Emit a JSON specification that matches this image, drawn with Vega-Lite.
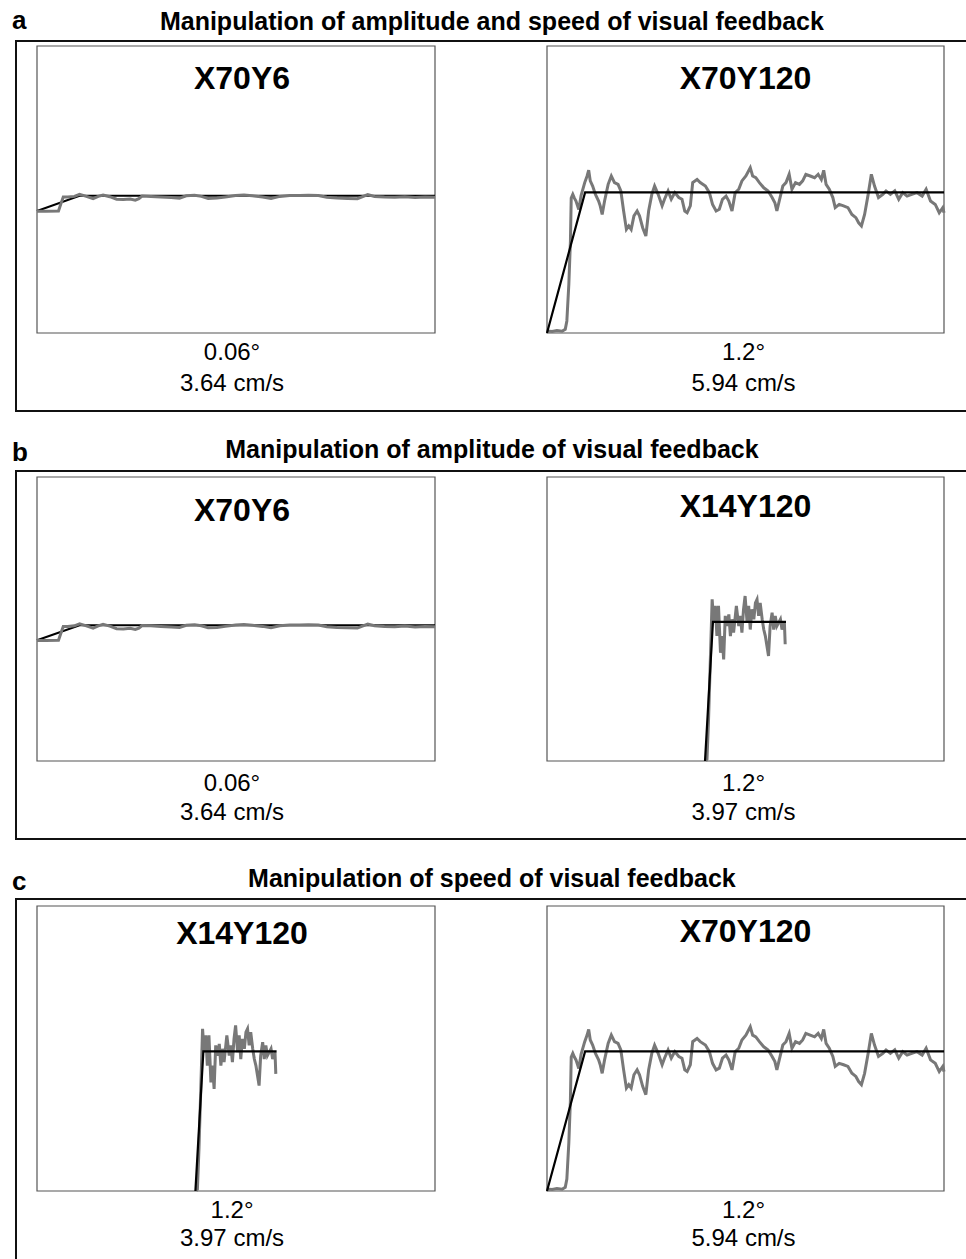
{
  "$schema": "https://vega.github.io/schema/vega-lite/v6.json",
  "padding": {"left": 10, "top": 7, "right": 0, "bottom": 0},
  "background": "white",
  "config": {
    "view": {"stroke": "#111111", "strokeWidth": 2},
    "text": {"font": "Liberation Sans", "color": "#000000"}
  },
  "bounds": "flush",
  "spacing": 60,
  "datasets": {
    "y6": [{"t":0,"v":42.4},{"t":2.15,"v":42.4},{"t":5.4,"v":42.5},{"t":6.0,"v":45},{"t":6.6,"v":47.4},{"t":7.7,"v":47.4},{"t":9.4,"v":47.6},{"t":10.7,"v":48.3},{"t":12.4,"v":47.6},{"t":14.1,"v":46.8},{"t":15.4,"v":47.6},{"t":16.6,"v":48.1},{"t":18.3,"v":47.5},{"t":20.0,"v":46.6},{"t":21.7,"v":46.5},{"t":23.4,"v":46.7},{"t":24.7,"v":46.3},{"t":25.6,"v":46.8},{"t":26.4,"v":47.7},{"t":28.6,"v":47.6},{"t":31.1,"v":47.4},{"t":33.7,"v":47.2},{"t":35.8,"v":47.0},{"t":37.5,"v":47.8},{"t":39.6,"v":48.0},{"t":41.3,"v":47.6},{"t":43.0,"v":46.9},{"t":45.2,"v":47.0},{"t":47.3,"v":47.4},{"t":49.9,"v":47.9},{"t":52.0,"v":48.1},{"t":54.1,"v":47.8},{"t":56.7,"v":47.4},{"t":58.8,"v":46.9},{"t":61.0,"v":47.6},{"t":63.5,"v":47.9},{"t":66.0,"v":47.9},{"t":68.2,"v":48.0},{"t":70.7,"v":47.9},{"t":72.8,"v":47.3},{"t":75.4,"v":47.0},{"t":78.0,"v":46.9},{"t":80.5,"v":46.8},{"t":83.1,"v":48.2},{"t":84.8,"v":47.6},{"t":87.3,"v":47.4},{"t":89.9,"v":47.3},{"t":92.4,"v":47.5},{"t":95.0,"v":47.2},{"t":97.5,"v":47.4},{"t":100,"v":47.3}],
    "y6_target": [{"t":0,"v":42.5},{"t":10.7,"v":47.8},{"t":100,"v":47.8}],
    "y120": [{"t":0,"v":0.7},{"t":1.3,"v":0.5},{"t":2.5,"v":0.9},{"t":3.8,"v":0.6},{"t":4.6,"v":1.3},{"t":5.0,"v":4.2},{"t":5.5,"v":17},{"t":5.9,"v":32},{"t":6.1,"v":47},{"t":6.5,"v":48.3},{"t":6.9,"v":47},{"t":7.3,"v":46},{"t":8.0,"v":43},{"t":8.6,"v":48},{"t":9.5,"v":52.4},{"t":10.1,"v":54.7},{"t":10.5,"v":56.7},{"t":10.9,"v":53},{"t":11.5,"v":51.2},{"t":12.2,"v":48.3},{"t":13.0,"v":46},{"t":13.4,"v":44.3},{"t":13.9,"v":41.3},{"t":14.5,"v":46},{"t":15.4,"v":51.8},{"t":16.2,"v":54.7},{"t":17.0,"v":52.4},{"t":17.9,"v":51.8},{"t":18.6,"v":49.5},{"t":19.3,"v":42.5},{"t":20.0,"v":36.1},{"t":20.6,"v":37.3},{"t":21.2,"v":36.1},{"t":21.9,"v":40.8},{"t":22.7,"v":42.5},{"t":23.3,"v":40.8},{"t":24.1,"v":36.7},{"t":24.9,"v":33.8},{"t":25.6,"v":42.5},{"t":26.4,"v":48.3},{"t":27.1,"v":51.2},{"t":28.0,"v":48.3},{"t":29.0,"v":44.3},{"t":29.6,"v":46.6},{"t":30.5,"v":49.5},{"t":31.3,"v":46.6},{"t":32.2,"v":48.9},{"t":33.2,"v":47.2},{"t":34.0,"v":46.6},{"t":34.7,"v":42.5},{"t":35.3,"v":41.9},{"t":36.1,"v":44.3},{"t":36.7,"v":52.4},{"t":37.8,"v":53.5},{"t":38.6,"v":52.4},{"t":39.9,"v":51.2},{"t":40.9,"v":48.9},{"t":41.7,"v":44.8},{"t":42.6,"v":42.5},{"t":43.4,"v":43.1},{"t":44.2,"v":46.6},{"t":45.1,"v":47.7},{"t":45.8,"v":46},{"t":46.6,"v":42.5},{"t":47.4,"v":48.9},{"t":48.3,"v":50.1},{"t":49.1,"v":53},{"t":50.1,"v":54.7},{"t":51.2,"v":57.6},{"t":51.8,"v":54.7},{"t":52.6,"v":54.1},{"t":53.5,"v":52.4},{"t":54.6,"v":50.6},{"t":55.7,"v":49.5},{"t":56.7,"v":47.2},{"t":57.4,"v":45.4},{"t":57.9,"v":42.5},{"t":58.5,"v":46},{"t":59.4,"v":51.2},{"t":60.2,"v":52.4},{"t":61.0,"v":55.3},{"t":61.7,"v":50.1},{"t":62.6,"v":52.4},{"t":63.6,"v":51.8},{"t":64.4,"v":53},{"t":65.2,"v":55.3},{"t":66.3,"v":54.7},{"t":67.4,"v":54.1},{"t":68.3,"v":55.3},{"t":69.1,"v":53.5},{"t":69.7,"v":56.7},{"t":70.3,"v":51.8},{"t":71.1,"v":50.1},{"t":72.0,"v":47.2},{"t":72.6,"v":43.7},{"t":73.6,"v":44.8},{"t":74.7,"v":44.3},{"t":75.8,"v":43.7},{"t":76.8,"v":41.3},{"t":77.8,"v":40.2},{"t":78.5,"v":38.4},{"t":79.2,"v":37.3},{"t":80.0,"v":41.3},{"t":80.9,"v":48.3},{"t":81.7,"v":55.3},{"t":82.5,"v":51.2},{"t":83.5,"v":47.2},{"t":84.6,"v":48.3},{"t":85.4,"v":49.5},{"t":86.5,"v":48.3},{"t":87.6,"v":49.5},{"t":88.6,"v":46.6},{"t":89.6,"v":48.9},{"t":90.7,"v":47.7},{"t":91.9,"v":48.3},{"t":93.2,"v":48.9},{"t":94.5,"v":47.7},{"t":95.5,"v":50.1},{"t":96.6,"v":46},{"t":97.8,"v":44.8},{"t":98.8,"v":41.9},{"t":99.7,"v":43.7},{"t":100,"v":41.9}],
    "y120_target": [{"t":0,"v":0},{"t":9.6,"v":49},{"t":100,"v":49}],
    "x14": [{"t":40.0,"v":0},{"t":40.3,"v":0.6},{"t":40.7,"v":15},{"t":41.1,"v":33.4},{"t":41.6,"v":56.9},{"t":42.0,"v":48.7},{"t":42.4,"v":54.6},{"t":42.8,"v":44.0},{"t":43.2,"v":54.6},{"t":43.7,"v":38.1},{"t":44.1,"v":44.0},{"t":44.5,"v":35.8},{"t":44.9,"v":51.1},{"t":45.3,"v":47.5},{"t":45.8,"v":51.6},{"t":46.2,"v":44.0},{"t":46.6,"v":49.9},{"t":47.0,"v":45.2},{"t":47.7,"v":54.6},{"t":48.3,"v":47.5},{"t":48.7,"v":51.1},{"t":49.1,"v":45.2},{"t":49.5,"v":53.4},{"t":49.9,"v":58.1},{"t":50.4,"v":48.7},{"t":50.8,"v":54.6},{"t":51.2,"v":46.3},{"t":51.6,"v":53.4},{"t":52.1,"v":49.9},{"t":52.5,"v":55.7},{"t":52.9,"v":56.9},{"t":53.3,"v":51.1},{"t":53.7,"v":55.7},{"t":54.2,"v":49.9},{"t":54.6,"v":46.3},{"t":55.0,"v":44.0},{"t":55.4,"v":40.5},{"t":55.8,"v":37.0},{"t":56.2,"v":47.5},{"t":56.7,"v":52.2},{"t":57.1,"v":46.3},{"t":57.5,"v":51.1},{"t":57.9,"v":47.5},{"t":58.8,"v":49.9},{"t":59.2,"v":46.3},{"t":59.8,"v":48.7},{"t":60.0,"v":41.1}],
    "x14_target": [{"t":39.8,"v":0},{"t":41.8,"v":49},{"t":60.2,"v":49}],
    "one": [{}]
  },
  "vconcat": [
    {
      "width": 951, "height": 370,
      "resolve": {"scale": {"x": "independent", "y": "independent"}},
      "layer": [
        {
          "layer": [
            {"data": {"name": "one"}, "mark": {"type": "rect", "fill": "transparent", "stroke": "#555555", "strokeWidth": 1.2},
             "encoding": {"x": {"datum": 0, "type": "quantitative", "axis": null, "scale": {"domain": [0,100], "range": [21,419], "nice": false, "zero": false}}, "x2": {"datum": 100},
                          "y": {"datum": 0, "type": "quantitative", "axis": null, "scale": {"domain": [0,100], "range": [292,5], "nice": false, "zero": false}}, "y2": {"datum": 100}}},
            {"data": {"name": "y6_target"}, "mark": {"type": "line", "color": "#000000", "strokeWidth": 2},
             "encoding": {"x": {"field": "t", "type": "quantitative", "axis": null, "scale": {"domain": [0,100], "range": [21,419], "nice": false, "zero": false}},
                          "y": {"field": "v", "type": "quantitative", "axis": null, "scale": {"domain": [0,100], "range": [292,5], "nice": false, "zero": false}}}},
            {"data": {"name": "y6"}, "mark": {"type": "line", "color": "#787878", "strokeWidth": 3},
             "encoding": {"x": {"field": "t", "type": "quantitative", "axis": null, "scale": {"domain": [0,100], "range": [21,419], "nice": false, "zero": false}},
                          "y": {"field": "v", "type": "quantitative", "axis": null, "scale": {"domain": [0,100], "range": [292,5], "nice": false, "zero": false}}}},
            {"data": {"name": "one"}, "mark": {"type": "text", "text": "X70Y6", "fontWeight": "bold", "fontSize": 32, "align": "center", "baseline": "middle"},
             "encoding": {"x": {"datum": 51.5, "type": "quantitative", "scale": {"domain": [0,100], "range": [21,419], "nice": false, "zero": false}},
                          "y": {"datum": 88.5, "type": "quantitative", "scale": {"domain": [0,100], "range": [292,5], "nice": false, "zero": false}}}},
            {"data": {"name": "one"}, "mark": {"type": "text", "text": "0.06°", "fontSize": 24, "align": "center", "baseline": "middle"},
             "encoding": {"x": {"datum": 49, "type": "quantitative", "scale": {"domain": [0,100], "range": [21,419], "nice": false, "zero": false}},
                          "y": {"datum": -7.0, "type": "quantitative", "scale": {"domain": [0,100], "range": [292,5], "nice": false, "zero": false}}}},
            {"data": {"name": "one"}, "mark": {"type": "text", "text": "3.64 cm/s", "fontSize": 24, "align": "center", "baseline": "middle"},
             "encoding": {"x": {"datum": 49, "type": "quantitative", "scale": {"domain": [0,100], "range": [21,419], "nice": false, "zero": false}},
                          "y": {"datum": -17.8, "type": "quantitative", "scale": {"domain": [0,100], "range": [292,5], "nice": false, "zero": false}}}},
            {"data": {"name": "one"}, "mark": {"type": "text", "text": "a", "fontWeight": "bold", "fontSize": 26, "align": "left", "baseline": "alphabetic"},
             "encoding": {"x": {"datum": -6.3, "type": "quantitative", "scale": {"domain": [0,100], "range": [21,419], "nice": false, "zero": false}},
                          "y": {"datum": 105.9, "type": "quantitative", "scale": {"domain": [0,100], "range": [292,5], "nice": false, "zero": false}}}},
            {"data": {"name": "one"}, "mark": {"type": "text", "text": "Manipulation of amplitude and speed of visual feedback", "fontWeight": "bold", "fontSize": 25, "align": "center", "baseline": "alphabetic"},
             "encoding": {"x": {"datum": 114.3, "type": "quantitative", "scale": {"domain": [0,100], "range": [21,419], "nice": false, "zero": false}},
                          "y": {"datum": 105.6, "type": "quantitative", "scale": {"domain": [0,100], "range": [292,5], "nice": false, "zero": false}}}}
          ]
        },
        {
          "layer": [
            {"data": {"name": "one"}, "mark": {"type": "rect", "fill": "transparent", "stroke": "#555555", "strokeWidth": 1.2},
             "encoding": {"x": {"datum": 0, "type": "quantitative", "axis": null, "scale": {"domain": [0,100], "range": [531,928], "nice": false, "zero": false}}, "x2": {"datum": 100},
                          "y": {"datum": 0, "type": "quantitative", "axis": null, "scale": {"domain": [0,100], "range": [292,5], "nice": false, "zero": false}}, "y2": {"datum": 100}}},
            {"data": {"name": "y120"}, "mark": {"type": "line", "color": "#787878", "strokeWidth": 3},
             "encoding": {"x": {"field": "t", "type": "quantitative", "axis": null, "scale": {"domain": [0,100], "range": [531,928], "nice": false, "zero": false}},
                          "y": {"field": "v", "type": "quantitative", "axis": null, "scale": {"domain": [0,100], "range": [292,5], "nice": false, "zero": false}}}},
            {"data": {"name": "y120_target"}, "mark": {"type": "line", "color": "#000000", "strokeWidth": 2.2},
             "encoding": {"x": {"field": "t", "type": "quantitative", "axis": null, "scale": {"domain": [0,100], "range": [531,928], "nice": false, "zero": false}},
                          "y": {"field": "v", "type": "quantitative", "axis": null, "scale": {"domain": [0,100], "range": [292,5], "nice": false, "zero": false}}}},
            {"data": {"name": "one"}, "mark": {"type": "text", "text": "X70Y120", "fontWeight": "bold", "fontSize": 32, "align": "center", "baseline": "middle"},
             "encoding": {"x": {"datum": 50, "type": "quantitative", "scale": {"domain": [0,100], "range": [531,928], "nice": false, "zero": false}},
                          "y": {"datum": 88.5, "type": "quantitative", "scale": {"domain": [0,100], "range": [292,5], "nice": false, "zero": false}}}},
            {"data": {"name": "one"}, "mark": {"type": "text", "text": "1.2°", "fontSize": 24, "align": "center", "baseline": "middle"},
             "encoding": {"x": {"datum": 49.5, "type": "quantitative", "scale": {"domain": [0,100], "range": [531,928], "nice": false, "zero": false}},
                          "y": {"datum": -7.0, "type": "quantitative", "scale": {"domain": [0,100], "range": [292,5], "nice": false, "zero": false}}}},
            {"data": {"name": "one"}, "mark": {"type": "text", "text": "5.94 cm/s", "fontSize": 24, "align": "center", "baseline": "middle"},
             "encoding": {"x": {"datum": 49.5, "type": "quantitative", "scale": {"domain": [0,100], "range": [531,928], "nice": false, "zero": false}},
                          "y": {"datum": -17.8, "type": "quantitative", "scale": {"domain": [0,100], "range": [292,5], "nice": false, "zero": false}}}}
          ]
        }
      ]
    },
    {
      "width": 951, "height": 368,
      "resolve": {"scale": {"x": "independent", "y": "independent"}},
      "layer": [
        {
          "layer": [
            {"data": {"name": "one"}, "mark": {"type": "rect", "fill": "transparent", "stroke": "#555555", "strokeWidth": 1.2},
             "encoding": {"x": {"datum": 0, "type": "quantitative", "axis": null, "scale": {"domain": [0,100], "range": [21,419], "nice": false, "zero": false}}, "x2": {"datum": 100},
                          "y": {"datum": 0, "type": "quantitative", "axis": null, "scale": {"domain": [0,100], "range": [290,6], "nice": false, "zero": false}}, "y2": {"datum": 100}}},
            {"data": {"name": "y6_target"}, "mark": {"type": "line", "color": "#000000", "strokeWidth": 2},
             "encoding": {"x": {"field": "t", "type": "quantitative", "axis": null, "scale": {"domain": [0,100], "range": [21,419], "nice": false, "zero": false}},
                          "y": {"field": "v", "type": "quantitative", "axis": null, "scale": {"domain": [0,100], "range": [290,6], "nice": false, "zero": false}}}},
            {"data": {"name": "y6"}, "mark": {"type": "line", "color": "#787878", "strokeWidth": 3},
             "encoding": {"x": {"field": "t", "type": "quantitative", "axis": null, "scale": {"domain": [0,100], "range": [21,419], "nice": false, "zero": false}},
                          "y": {"field": "v", "type": "quantitative", "axis": null, "scale": {"domain": [0,100], "range": [290,6], "nice": false, "zero": false}}}},
            {"data": {"name": "one"}, "mark": {"type": "text", "text": "X70Y6", "fontWeight": "bold", "fontSize": 32, "align": "center", "baseline": "middle"},
             "encoding": {"x": {"datum": 51.5, "type": "quantitative", "scale": {"domain": [0,100], "range": [21,419], "nice": false, "zero": false}},
                          "y": {"datum": 88.0, "type": "quantitative", "scale": {"domain": [0,100], "range": [290,6], "nice": false, "zero": false}}}},
            {"data": {"name": "one"}, "mark": {"type": "text", "text": "0.06°", "fontSize": 24, "align": "center", "baseline": "middle"},
             "encoding": {"x": {"datum": 49, "type": "quantitative", "scale": {"domain": [0,100], "range": [21,419], "nice": false, "zero": false}},
                          "y": {"datum": -8.1, "type": "quantitative", "scale": {"domain": [0,100], "range": [290,6], "nice": false, "zero": false}}}},
            {"data": {"name": "one"}, "mark": {"type": "text", "text": "3.64 cm/s", "fontSize": 24, "align": "center", "baseline": "middle"},
             "encoding": {"x": {"datum": 49, "type": "quantitative", "scale": {"domain": [0,100], "range": [21,419], "nice": false, "zero": false}},
                          "y": {"datum": -18.3, "type": "quantitative", "scale": {"domain": [0,100], "range": [290,6], "nice": false, "zero": false}}}},
            {"data": {"name": "one"}, "mark": {"type": "text", "text": "b", "fontWeight": "bold", "fontSize": 26, "align": "left", "baseline": "alphabetic"},
             "encoding": {"x": {"datum": -6.3, "type": "quantitative", "scale": {"domain": [0,100], "range": [21,419], "nice": false, "zero": false}},
                          "y": {"datum": 105.6, "type": "quantitative", "scale": {"domain": [0,100], "range": [290,6], "nice": false, "zero": false}}}},
            {"data": {"name": "one"}, "mark": {"type": "text", "text": "Manipulation of amplitude of visual feedback", "fontWeight": "bold", "fontSize": 25, "align": "center", "baseline": "alphabetic"},
             "encoding": {"x": {"datum": 114.3, "type": "quantitative", "scale": {"domain": [0,100], "range": [21,419], "nice": false, "zero": false}},
                          "y": {"datum": 106.7, "type": "quantitative", "scale": {"domain": [0,100], "range": [290,6], "nice": false, "zero": false}}}}
          ]
        },
        {
          "layer": [
            {"data": {"name": "one"}, "mark": {"type": "rect", "fill": "transparent", "stroke": "#555555", "strokeWidth": 1.2},
             "encoding": {"x": {"datum": 0, "type": "quantitative", "axis": null, "scale": {"domain": [0,100], "range": [531,928], "nice": false, "zero": false}}, "x2": {"datum": 100},
                          "y": {"datum": 0, "type": "quantitative", "axis": null, "scale": {"domain": [0,100], "range": [290,6], "nice": false, "zero": false}}, "y2": {"datum": 100}}},
            {"data": {"name": "x14"}, "mark": {"type": "line", "color": "#787878", "strokeWidth": 3},
             "encoding": {"x": {"field": "t", "type": "quantitative", "axis": null, "scale": {"domain": [0,100], "range": [531,928], "nice": false, "zero": false}},
                          "y": {"field": "v", "type": "quantitative", "axis": null, "scale": {"domain": [0,100], "range": [290,6], "nice": false, "zero": false}}}},
            {"data": {"name": "x14_target"}, "mark": {"type": "line", "color": "#000000", "strokeWidth": 2.2},
             "encoding": {"x": {"field": "t", "type": "quantitative", "axis": null, "scale": {"domain": [0,100], "range": [531,928], "nice": false, "zero": false}},
                          "y": {"field": "v", "type": "quantitative", "axis": null, "scale": {"domain": [0,100], "range": [290,6], "nice": false, "zero": false}}}},
            {"data": {"name": "one"}, "mark": {"type": "text", "text": "X14Y120", "fontWeight": "bold", "fontSize": 32, "align": "center", "baseline": "middle"},
             "encoding": {"x": {"datum": 50, "type": "quantitative", "scale": {"domain": [0,100], "range": [531,928], "nice": false, "zero": false}},
                          "y": {"datum": 89.4, "type": "quantitative", "scale": {"domain": [0,100], "range": [290,6], "nice": false, "zero": false}}}},
            {"data": {"name": "one"}, "mark": {"type": "text", "text": "1.2°", "fontSize": 24, "align": "center", "baseline": "middle"},
             "encoding": {"x": {"datum": 49.5, "type": "quantitative", "scale": {"domain": [0,100], "range": [531,928], "nice": false, "zero": false}},
                          "y": {"datum": -8.1, "type": "quantitative", "scale": {"domain": [0,100], "range": [290,6], "nice": false, "zero": false}}}},
            {"data": {"name": "one"}, "mark": {"type": "text", "text": "3.97 cm/s", "fontSize": 24, "align": "center", "baseline": "middle"},
             "encoding": {"x": {"datum": 49.5, "type": "quantitative", "scale": {"domain": [0,100], "range": [531,928], "nice": false, "zero": false}},
                          "y": {"datum": -18.3, "type": "quantitative", "scale": {"domain": [0,100], "range": [290,6], "nice": false, "zero": false}}}}
          ]
        }
      ]
    },
    {
      "width": 951, "height": 364,
      "resolve": {"scale": {"x": "independent", "y": "independent"}},
      "layer": [
        {
          "layer": [
            {"data": {"name": "one"}, "mark": {"type": "rect", "fill": "transparent", "stroke": "#555555", "strokeWidth": 1.2},
             "encoding": {"x": {"datum": 0, "type": "quantitative", "axis": null, "scale": {"domain": [0,100], "range": [21,419], "nice": false, "zero": false}}, "x2": {"datum": 100},
                          "y": {"datum": 0, "type": "quantitative", "axis": null, "scale": {"domain": [0,100], "range": [292,7], "nice": false, "zero": false}}, "y2": {"datum": 100}}},
            {"data": {"name": "x14"}, "mark": {"type": "line", "color": "#787878", "strokeWidth": 3},
             "encoding": {"x": {"field": "t", "type": "quantitative", "axis": null, "scale": {"domain": [0,100], "range": [21,419], "nice": false, "zero": false}},
                          "y": {"field": "v", "type": "quantitative", "axis": null, "scale": {"domain": [0,100], "range": [292,7], "nice": false, "zero": false}}}},
            {"data": {"name": "x14_target"}, "mark": {"type": "line", "color": "#000000", "strokeWidth": 2.2},
             "encoding": {"x": {"field": "t", "type": "quantitative", "axis": null, "scale": {"domain": [0,100], "range": [21,419], "nice": false, "zero": false}},
                          "y": {"field": "v", "type": "quantitative", "axis": null, "scale": {"domain": [0,100], "range": [292,7], "nice": false, "zero": false}}}},
            {"data": {"name": "one"}, "mark": {"type": "text", "text": "X14Y120", "fontWeight": "bold", "fontSize": 32, "align": "center", "baseline": "middle"},
             "encoding": {"x": {"datum": 51.5, "type": "quantitative", "scale": {"domain": [0,100], "range": [21,419], "nice": false, "zero": false}},
                          "y": {"datum": 90.2, "type": "quantitative", "scale": {"domain": [0,100], "range": [292,7], "nice": false, "zero": false}}}},
            {"data": {"name": "one"}, "mark": {"type": "text", "text": "1.2°", "fontSize": 24, "align": "center", "baseline": "middle"},
             "encoding": {"x": {"datum": 49, "type": "quantitative", "scale": {"domain": [0,100], "range": [21,419], "nice": false, "zero": false}},
                          "y": {"datum": -7.0, "type": "quantitative", "scale": {"domain": [0,100], "range": [292,7], "nice": false, "zero": false}}}},
            {"data": {"name": "one"}, "mark": {"type": "text", "text": "3.97 cm/s", "fontSize": 24, "align": "center", "baseline": "middle"},
             "encoding": {"x": {"datum": 49, "type": "quantitative", "scale": {"domain": [0,100], "range": [21,419], "nice": false, "zero": false}},
                          "y": {"datum": -16.8, "type": "quantitative", "scale": {"domain": [0,100], "range": [292,7], "nice": false, "zero": false}}}},
            {"data": {"name": "one"}, "mark": {"type": "text", "text": "c", "fontWeight": "bold", "fontSize": 26, "align": "left", "baseline": "alphabetic"},
             "encoding": {"x": {"datum": -6.3, "type": "quantitative", "scale": {"domain": [0,100], "range": [21,419], "nice": false, "zero": false}},
                          "y": {"datum": 105.6, "type": "quantitative", "scale": {"domain": [0,100], "range": [292,7], "nice": false, "zero": false}}}},
            {"data": {"name": "one"}, "mark": {"type": "text", "text": "Manipulation of speed of visual feedback", "fontWeight": "bold", "fontSize": 25, "align": "center", "baseline": "alphabetic"},
             "encoding": {"x": {"datum": 114.3, "type": "quantitative", "scale": {"domain": [0,100], "range": [21,419], "nice": false, "zero": false}},
                          "y": {"datum": 106.7, "type": "quantitative", "scale": {"domain": [0,100], "range": [292,7], "nice": false, "zero": false}}}}
          ]
        },
        {
          "layer": [
            {"data": {"name": "one"}, "mark": {"type": "rect", "fill": "transparent", "stroke": "#555555", "strokeWidth": 1.2},
             "encoding": {"x": {"datum": 0, "type": "quantitative", "axis": null, "scale": {"domain": [0,100], "range": [531,928], "nice": false, "zero": false}}, "x2": {"datum": 100},
                          "y": {"datum": 0, "type": "quantitative", "axis": null, "scale": {"domain": [0,100], "range": [292,7], "nice": false, "zero": false}}, "y2": {"datum": 100}}},
            {"data": {"name": "y120"}, "mark": {"type": "line", "color": "#787878", "strokeWidth": 3},
             "encoding": {"x": {"field": "t", "type": "quantitative", "axis": null, "scale": {"domain": [0,100], "range": [531,928], "nice": false, "zero": false}},
                          "y": {"field": "v", "type": "quantitative", "axis": null, "scale": {"domain": [0,100], "range": [292,7], "nice": false, "zero": false}}}},
            {"data": {"name": "y120_target"}, "mark": {"type": "line", "color": "#000000", "strokeWidth": 2.2},
             "encoding": {"x": {"field": "t", "type": "quantitative", "axis": null, "scale": {"domain": [0,100], "range": [531,928], "nice": false, "zero": false}},
                          "y": {"field": "v", "type": "quantitative", "axis": null, "scale": {"domain": [0,100], "range": [292,7], "nice": false, "zero": false}}}},
            {"data": {"name": "one"}, "mark": {"type": "text", "text": "X70Y120", "fontWeight": "bold", "fontSize": 32, "align": "center", "baseline": "middle"},
             "encoding": {"x": {"datum": 50, "type": "quantitative", "scale": {"domain": [0,100], "range": [531,928], "nice": false, "zero": false}},
                          "y": {"datum": 90.9, "type": "quantitative", "scale": {"domain": [0,100], "range": [292,7], "nice": false, "zero": false}}}},
            {"data": {"name": "one"}, "mark": {"type": "text", "text": "1.2°", "fontSize": 24, "align": "center", "baseline": "middle"},
             "encoding": {"x": {"datum": 49.5, "type": "quantitative", "scale": {"domain": [0,100], "range": [531,928], "nice": false, "zero": false}},
                          "y": {"datum": -7.0, "type": "quantitative", "scale": {"domain": [0,100], "range": [292,7], "nice": false, "zero": false}}}},
            {"data": {"name": "one"}, "mark": {"type": "text", "text": "5.94 cm/s", "fontSize": 24, "align": "center", "baseline": "middle"},
             "encoding": {"x": {"datum": 49.5, "type": "quantitative", "scale": {"domain": [0,100], "range": [531,928], "nice": false, "zero": false}},
                          "y": {"datum": -16.8, "type": "quantitative", "scale": {"domain": [0,100], "range": [292,7], "nice": false, "zero": false}}}}
          ]
        }
      ]
    }
  ]
}
